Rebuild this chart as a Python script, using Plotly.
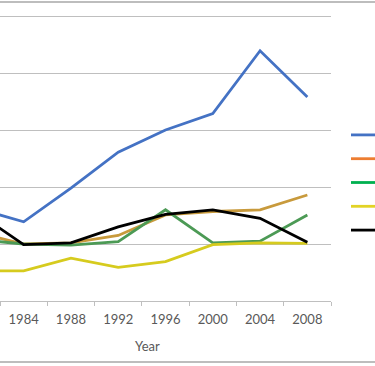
import plotly.graph_objects as go

years = ["1980", "1984", "1988", "1992", "1996", "2000", "2004", "2008"]
series_names = ["Series 1", "Series 2", "Series 3", "Series 4", "Series 5"]
blue_vals = [16.3, 13.9, 19.8, 26.1, 30.0, 32.9, 43.9, 35.8]
orange_vals = [12.0, 10.0, 10.2, 11.5, 15.1, 15.7, 16.0, 18.6]
green_vals = [10.8, 10.0, 9.8, 10.4, 16.0, 10.2, 10.5, 15.1]
yellow_vals = [5.3, 5.3, 7.5, 5.9, 6.9, 9.9, 10.2, 10.1]
black_vals = [15.6, 9.9, 10.2, 13.0, 15.2, 16.0, 14.5, 10.3]

all_vals = [blue_vals, orange_vals, green_vals, yellow_vals, black_vals]
line_colors = ["#4472C4", "#C89A3C", "#4C9A55", "#D6CB1E", "#000000"]
legend_colors = ["#4472C4", "#ED7D31", "#00B050", "#E2D325", "#000000"]

W, H = 375, 366
ML, MR, MT, MB = 0, 44, 10, 65
plot_w = W - ML - MR
plot_h = H - MT - MB
px_per_unit = 5.7
y_top = (301 - MT) / px_per_unit

fig = go.Figure()
for name, vals, col in zip(series_names, all_vals, line_colors):
    fig.add_trace(go.Scatter(x=years, y=vals, mode="lines", name=name,
                             line=dict(color=col, width=2.8), showlegend=False))
for name, col in zip(series_names, legend_colors):
    fig.add_trace(go.Scatter(x=[None], y=[None], mode="lines", name=name,
                             line=dict(color=col, width=2.8), showlegend=True))


def py(px_y):
    return (H - MB - px_y) / plot_h


font_family = "Lato, 'Open Sans', sans-serif"
fig.update_layout(
    width=W, height=H,
    margin=dict(l=ML, r=MR, t=MT, b=MB, autoexpand=False),
    paper_bgcolor="white", plot_bgcolor="white",
    font=dict(family=font_family, color="#595959", size=13),
    legend=dict(x=(346 - ML) / plot_w, xanchor="left", y=py(182.5),
                yanchor="middle", font=dict(size=16), bgcolor="rgba(0,0,0,0)"),
    xaxis=dict(type="category", range=[0.5, 7.5], showgrid=False,
               showline=True, linecolor="#BFBFBF", linewidth=1,
               ticks="outside", tickson="boundaries", ticklen=4,
               tickcolor="#BFBFBF", tickfont=dict(size=13, color="#595959"),
               ticklabelstandoff=6),
    yaxis=dict(range=[0, y_top], tick0=0, dtick=10, showgrid=True, gridcolor="#BFBFBF",
               gridwidth=1, zeroline=False, showticklabels=False, showline=False),
    annotations=[dict(text="Year", x=(147 - ML) / plot_w, y=py(346.5),
                      xref="paper", yref="paper", showarrow=False,
                      font=dict(size=13, color="#595959"),
                      xanchor="center", yanchor="middle")],
    shapes=[
        dict(type="line", xref="paper", yref="paper", x0=-0.1, x1=W / plot_w + 0.1,
             y0=py(2), y1=py(2), layer="above",
             line=dict(color="#BDBDBD", width=2)),
        dict(type="line", xref="paper", yref="paper", x0=-0.1, x1=W / plot_w + 0.1,
             y0=py(362), y1=py(362), layer="above",
             line=dict(color="#BDBDBD", width=2)),
    ],
)

fig.write_html("out.html", config={"displayModeBar": False},
               post_script="document.body.style.margin='0';document.body.style.overflow='hidden';")
